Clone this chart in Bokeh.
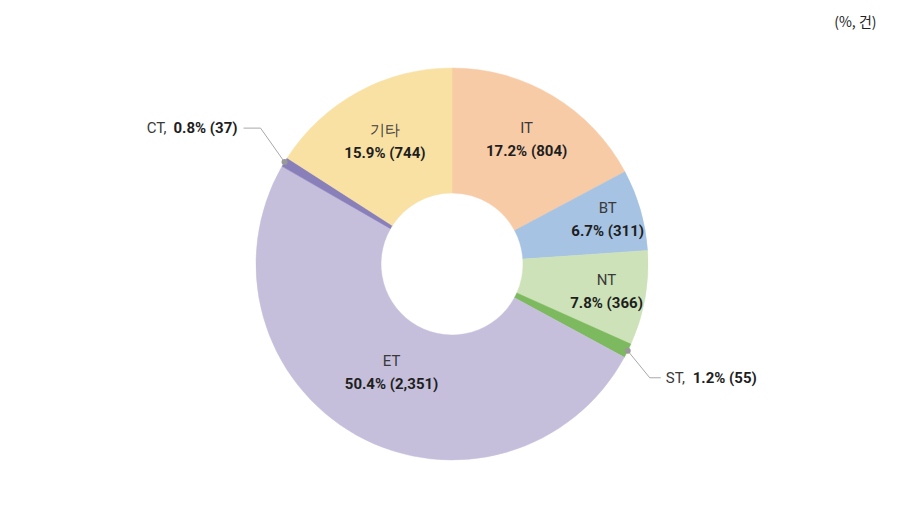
import math
from bokeh.plotting import figure
from bokeh.models import Range1d
from bokeh.core.properties import value
from bokeh.embed import file_html
from bokeh.resources import INLINE

# ---- data ----
categories = ["IT", "BT", "NT", "ST", "ET", "CT", "기타"]
percents = [17.2, 6.7, 7.8, 1.2, 50.4, 0.8, 15.9]
counts = [804, 311, 366, 55, 2351, 37, 744]
colors = ["#F8CBA7", "#A6C3E3", "#CDE2B8", "#7DB95F", "#C6BFDC", "#8A80B9", "#F9E1A4"]
unit_label = "(%, 건)"

# ---- layout ----
W, H = 884, 498
def Y(py):  # screenshot pixel y -> data y
    return H - py
def X(px):
    return px

cx, cy = X(451.5), Y(263.5)
R_OUT, R_IN = 196, 71
inside = {"IT": 145, "BT": 162, "NT": 157, "ET": 124, "기타": 140}
outside = {"CT": "left", "ST": "right"}

FONT = "Roboto"
NAME_COLOR = "#3a3a3a"
VAL_COLOR = "#1e1e1e"

p = figure(width=W, height=H, x_range=Range1d(0, W), y_range=Range1d(0, H),
           output_backend="svg", toolbar_location=None, min_border=0)
p.axis.visible = False
p.grid.visible = False
p.outline_line_color = None
p.background_fill_color = "white"

total = sum(percents)
cum = 0.0
starts, ends, mids = [], [], []
for pc in percents:
    a0 = math.pi / 2 - 2 * math.pi * cum / total
    cum += pc
    a1 = math.pi / 2 - 2 * math.pi * cum / total
    starts.append(a0)
    ends.append(a1)
    mids.append((a0 + a1) / 2)

p.annular_wedge(x=[cx] * len(categories), y=[cy] * len(categories),
                inner_radius=R_IN, outer_radius=R_OUT,
                start_angle=starts, end_angle=ends, direction="clock",
                fill_color=colors, line_color=colors, line_width=0.5)

def fmt_val(pc, n):
    return f"{pc:.1f}% ({n:,})"

for cat, pc, n, m in zip(categories, percents, counts, mids):
    if cat in inside:
        r = inside[cat]
        lx = cx + r * math.cos(m)
        ly = cy + r * math.sin(m)
        p.text(x=[lx], y=[ly + 11.5], text=[cat], text_align="center",
               text_baseline="middle", text_font=value(FONT),
               text_font_size="15px", text_color=NAME_COLOR)
        p.text(x=[lx], y=[ly - 11.5], text=[fmt_val(pc, n)], text_align="center",
               text_baseline="middle", text_font=value(FONT),
               text_font_size="15px", text_font_style="bold", text_color=VAL_COLOR)
    else:
        ex = cx + R_OUT * math.cos(m)
        ey = cy + R_OUT * math.sin(m)
        if outside[cat] == "left":
            kx, ky = ex - 24, ey + 34
            hx = kx - 17
            p.line(x=[ex, kx, hx], y=[ey, ky, ky], line_color="#a8a8a8", line_width=1)
            p.scatter(x=[ex], y=[ey], size=6, fill_color="#999999", line_color=None)
            p.text(x=[hx - 6], y=[ky], text=[fmt_val(pc, n)], text_align="right",
                   text_baseline="middle", text_font=value(FONT),
                   text_font_size="15px", text_font_style="bold", text_color=VAL_COLOR)
            p.text(x=[hx - 77], y=[ky], text=[cat + ","], text_align="right",
                   text_baseline="middle", text_font=value(FONT),
                   text_font_size="15px", text_color=NAME_COLOR)
        else:
            kx, ky = ex + 22, ey - 27
            hx = kx + 11
            p.line(x=[ex, kx, hx], y=[ey, ky, ky], line_color="#a8a8a8", line_width=1)
            p.scatter(x=[ex], y=[ey], size=6, fill_color="#999999", line_color=None)
            p.text(x=[hx + 5], y=[ky], text=[cat + ","], text_align="left",
                   text_baseline="middle", text_font=value(FONT),
                   text_font_size="15px", text_color=NAME_COLOR)
            p.text(x=[hx + 32], y=[ky], text=[fmt_val(pc, n)], text_align="left",
                   text_baseline="middle", text_font=value(FONT),
                   text_font_size="15px", text_font_style="bold", text_color=VAL_COLOR)

p.text(x=[X(876)], y=[Y(20)], text=[unit_label], text_align="right",
       text_baseline="middle", text_font=value("Noto Sans CJK KR"),
       text_font_size="14px", text_color="#222222")

open("out.html", "w").write(file_html(p, INLINE))
